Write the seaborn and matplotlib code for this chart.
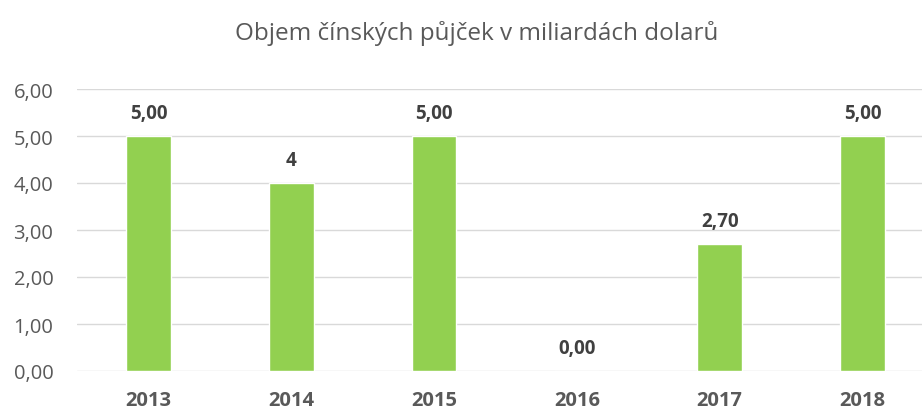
import pandas as pd
import matplotlib.pyplot as plt
import seaborn as sns

years = ['2013', '2014', '2015', '2016', '2017', '2018']
loans = [5.00, 4.00, 5.00, 0.00, 2.70, 5.00]
bar_labels = ['5,00', '4', '5,00', '0,00', '2,70', '5,00']
y_ticks = [0, 1, 2, 3, 4, 5, 6]
y_tick_labels = ['0,00', '1,00', '2,00', '3,00', '4,00', '5,00', '6,00']

df = pd.DataFrame({'year': years, 'loans': loans})

sns.set_style('white')
plt.rcParams['font.family'] = ['Open Sans', 'DejaVu Sans']

fig = plt.figure(figsize=(9.22, 4.1), dpi=100)
ax = fig.add_axes([77 / 922, 38 / 410, 845 / 922, 282 / 410])

sns.barplot(x='year', y='loans', data=df, color='#92D050', width=0.315,
            saturation=1, ax=ax, zorder=3)

ax.set_ylim(0, 6)
ax.set_xlim(-0.5, -0.5 + 845 / 142.8)
ax.set_yticks(y_ticks)
ax.set_yticklabels(y_tick_labels, fontsize=14.5, color='#595959')
ax.set_xticks(range(len(years)))
ax.set_xticklabels(years, fontsize=14.5, fontweight='bold', color='#595959')
ax.tick_params(axis='both', length=0)
ax.tick_params(axis='x', pad=14)
ax.tick_params(axis='y', pad=17)
ax.yaxis.grid(True, color='#D9D9D9', linewidth=1, zorder=0)
for s in ax.spines.values():
    s.set_visible(False)
ax.set_xlabel('')
ax.set_ylabel('')

for i, (v, lab) in enumerate(zip(loans, bar_labels)):
    ax.annotate(lab, (i, v), xytext=(0, 13), textcoords='offset points',
                ha='center', va='baseline', fontsize=13.5, fontweight='bold',
                color='#404040')

fig.text(477 / 922, 1 - 33 / 410, 'Objem čínských půjček v miliardách dolarů',
         ha='center', va='center', fontsize=17.5, color='#595959')

fig.savefig('out.png', dpi=100)
